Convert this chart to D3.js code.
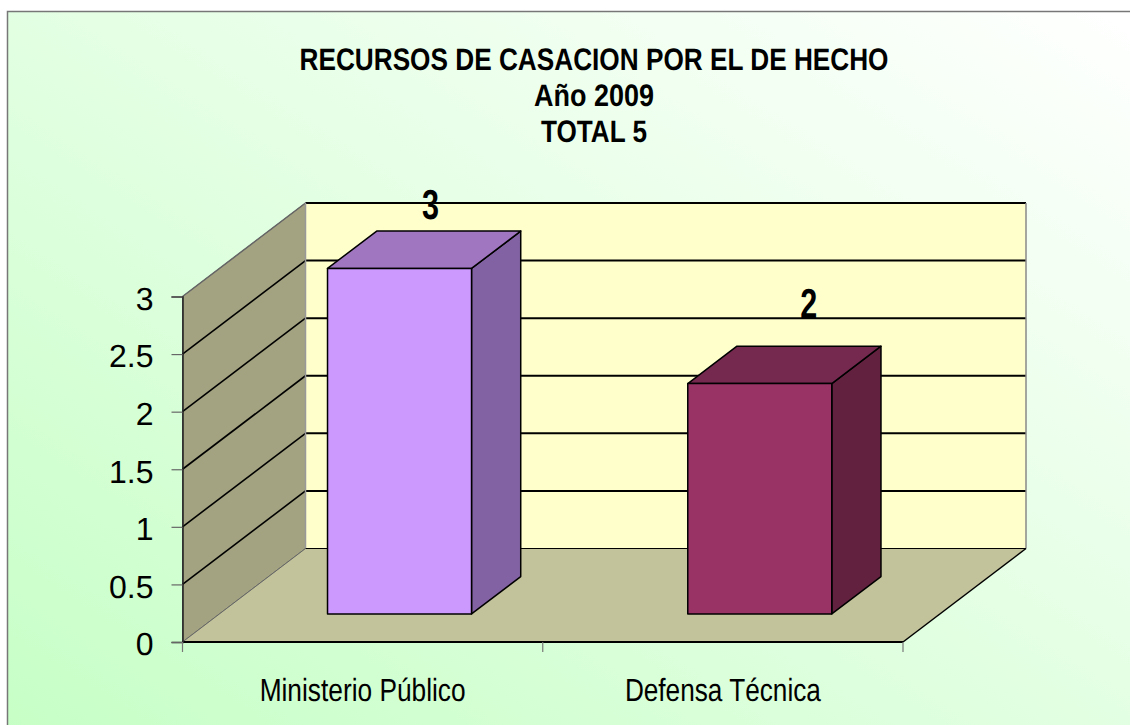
<!DOCTYPE html>
<html>
<head>
<meta charset="utf-8">
<script src="https://cdn.jsdelivr.net/npm/d3@7"></script>
<style>
html, body { margin: 0; padding: 0; background: #fff; overflow: hidden; }
text { font-family: "Liberation Sans", Arial, sans-serif; fill: #000; text-rendering: geometricPrecision; }
</style>
</head>
<body>
<div id="chart"></div>
<script>
var categories = ["Ministerio Público", "Defensa Técnica"];
var values = [3, 2];
var tickValues = [0, 0.5, 1, 1.5, 2, 2.5, 3];
var titleLines = ["RECURSOS DE CASACION POR EL DE HECHO", "Año 2009", "TOTAL 5"];
var frontColors = ["#cc99ff", "#993366"];
var topColors = ["#a076c0", "#75294f"];
var sideColors = ["#8262a2", "#62213f"];

function start(){
    var width = 1130, height = 725;
    var svg = d3.select("#chart").append("svg")
        .attr("width", width)
        .attr("height", height)
        .style("display", "block");

    var grad = svg.append("defs").append("linearGradient")
        .attr("id", "bg")
        .attr("x1", "0%").attr("y1", "100%")
        .attr("x2", "100%").attr("y2", "0%");
    grad.append("stop").attr("offset", "0%").attr("stop-color", "#c6ffc6");
    grad.append("stop").attr("offset", "100%").attr("stop-color", "#ffffff");

    // frame runs off the right and bottom of the window
    svg.append("rect")
        .attr("x", 7.5).attr("y", 11.5)
        .attr("width", width).attr("height", height)
        .attr("fill", "url(#bg)")
        .attr("stroke", "#777")
        .attr("stroke-width", 1.5);

    var xScale = d3.scaleBand()
        .domain(categories)
        .range([182.5, 903])
        .paddingInner(0)
        .paddingOuter(0);

    var yScale = d3.scaleLinear()
        .domain([0, 3])
        .range([642, 296.5]);

    // depth: 0 = front of floor, 1 = back wall
    var dx = d3.scaleLinear().domain([0, 1]).range([0, 123]);
    var dy = d3.scaleLinear().domain([0, 1]).range([0, -93.5]);

    // x is a plain pixel on the front plane, v is a chart value
    function pt(x, v, depth){
        return [x + dx(depth), yScale(v) + dy(depth)];
    }
    var line = d3.line();
    function poly(points){
        return line(points) + "Z";
    }

    var x0 = xScale.range()[0], x1 = xScale.range()[1];
    var vMax = yScale.domain()[1];

    // walls and floor
    svg.append("path")
        .attr("d", poly([pt(x0, 0, 1), pt(x1, 0, 1), pt(x1, vMax, 1), pt(x0, vMax, 1)]))
        .attr("fill", "#ffffcc");
    svg.append("path")
        .attr("d", poly([pt(x0, 0, 0), pt(x0, 0, 1), pt(x0, vMax, 1), pt(x0, vMax, 0)]))
        .attr("fill", "#a3a382")
        .attr("stroke", "#666")
        .attr("stroke-width", 1);
    svg.append("path")
        .attr("d", poly([pt(x0, 0, 0), pt(x1, 0, 0), pt(x1, 0, 1), pt(x0, 0, 1)]))
        .attr("fill", "#c2c29b");

    // grid lines on both walls
    var grid = svg.append("g").attr("fill", "none").attr("stroke", "#000");
    grid.selectAll(".back")
        .data(tickValues.slice(1))
        .enter().append("path")
        .attr("class", "back")
        .attr("stroke-width", 2)
        .attr("d", function(d){ return line([pt(x0, d, 1), pt(x1, d, 1)]); });
    grid.selectAll(".side")
        .data(tickValues.slice(1, -1))
        .enter().append("path")
        .attr("class", "side")
        .attr("stroke-width", 1.6)
        .attr("d", function(d){ return line([pt(x0, d, 0), pt(x0, d, 1)]); });

    // edges of the floor
    svg.append("path")
        .attr("d", line([pt(x0, vMax, 0), pt(x0, vMax, 1)]))
        .attr("stroke", "#666").attr("stroke-width", 1.5);
    svg.append("path")
        .attr("d", line([pt(x0, vMax, 1), pt(x0, 0, 1)]))
        .attr("stroke", "#999").attr("stroke-width", 1.5);
    svg.append("path")
        .attr("d", line([pt(x1, vMax, 1), pt(x1, 0, 1)]))
        .attr("stroke", "#888").attr("stroke-width", 1.5);
    svg.append("path")
        .attr("d", line([pt(x0, 0, 1), pt(x1, 0, 1)]))
        .attr("stroke", "#000").attr("stroke-width", 1);
    svg.append("path")
        .attr("d", line([pt(x1, 0, 0), pt(x1, 0, 1)]))
        .attr("stroke", "#000").attr("stroke-width", 1.5);
    svg.append("path")
        .attr("d", line([pt(x0, 0, 0), pt(x1, 0, 0)]))
        .attr("stroke", "#000").attr("stroke-width", 2);
    svg.append("path")
        .attr("d", line([pt(x0, 0, 0), pt(x0, 0, 1)]))
        .attr("stroke", "#666").attr("stroke-width", 1);

    // bars
    var barW = 144, depthA = 0.3, depthB = 0.7;
    var bars = svg.selectAll(".bar")
        .data(values)
        .enter().append("g")
        .attr("class", "bar")
        .attr("stroke", "#000")
        .attr("stroke-width", 1.5)
        .attr("stroke-linejoin", "round");

    function left(i){
        return xScale(categories[i]) + (xScale.bandwidth() - barW) / 2;
    }
    bars.append("path")
        .attr("fill", function(d, i){ return sideColors[i]; })
        .attr("d", function(d, i){
            var r = left(i) + barW;
            return poly([pt(r, 0, depthA), pt(r, 0, depthB), pt(r, d, depthB), pt(r, d, depthA)]);
        });
    bars.append("path")
        .attr("fill", function(d, i){ return topColors[i]; })
        .attr("d", function(d, i){
            var l = left(i), r = l + barW;
            return poly([pt(l, d, depthA), pt(r, d, depthA), pt(r, d, depthB), pt(l, d, depthB)]);
        });
    bars.append("path")
        .attr("fill", function(d, i){ return frontColors[i]; })
        .attr("d", function(d, i){
            var l = left(i), r = l + barW;
            return poly([pt(l, 0, depthA), pt(r, 0, depthA), pt(r, d, depthA), pt(l, d, depthA)]);
        });

    // value labels, bold and squeezed. the original has them nudged by hand
    var labelDx = [31, 49], labelDy = [-49, -66];
    svg.selectAll(".value")
        .data(values)
        .enter().append("text")
        .attr("class", "value")
        .attr("text-anchor", "middle")
        .attr("font-size", 42)
        .attr("font-weight", "bold")
        .attr("textLength", 17)
        .attr("lengthAdjust", "spacingAndGlyphs")
        .attr("x", function(d, i){ return pt(left(i) + barW / 2, d, depthA)[0] + labelDx[i]; })
        .attr("y", function(d, i){ return pt(left(i), d, depthA)[1] + labelDy[i]; })
        .text(function(d){ return d; });

    // axes
    var yAxis = svg.append("g")
        .attr("transform", "translate(" + x0 + ",0)")
        .call(d3.axisLeft(yScale).tickValues(tickValues).tickFormat(d3.format("")).tickSize(11).tickPadding(18));
    yAxis.select(".domain").attr("stroke", "#222").attr("stroke-width", 1.5);
    yAxis.selectAll("line").attr("stroke", "#666").attr("stroke-width", 1.2);
    yAxis.selectAll("text")
        .attr("font-size", 32)
        .attr("dy", "0.4em")
        .style("font-family", '"Liberation Sans", Arial, sans-serif')
        .attr("fill", "#000");

    var xAxis = svg.append("g")
        .attr("transform", "translate(0," + yScale(0) + ")")
        .call(d3.axisBottom(xScale).tickSize(0).tickPadding(59));
    xAxis.select(".domain").remove();
    xAxis.selectAll("text")
        .attr("font-size", 32)
        .attr("lengthAdjust", "spacingAndGlyphs")
        .attr("textLength", function(d, i){ return [206, 196][i]; })
        .attr("dy", 0)
        .style("font-family", '"Liberation Sans", Arial, sans-serif')
        .attr("fill", "#000");

    svg.append("g").selectAll("line")
        .data([x0, xScale(categories[1]), x1])
        .enter().append("line")
        .attr("x1", function(d){ return d; })
        .attr("x2", function(d){ return d; })
        .attr("y1", yScale(0))
        .attr("y2", yScale(0) + 10)
        .attr("stroke", "#777")
        .attr("stroke-width", 1.2);

    // title
    var titleW = [589, 120, 106];
    var titleY = [69.5, 105.5, 142];
    svg.selectAll(".title")
        .data(titleLines)
        .enter().append("text")
        .attr("class", "title")
        .attr("text-anchor", "middle")
        .attr("font-size", 31)
        .attr("font-weight", "bold")
        .attr("lengthAdjust", "spacingAndGlyphs")
        .attr("textLength", function(d, i){ return titleW[i]; })
        .attr("x", 594)
        .attr("y", function(d, i){ return titleY[i]; })
        .text(function(d){ return d; });
}

start();
</script>
</body>
</html>
